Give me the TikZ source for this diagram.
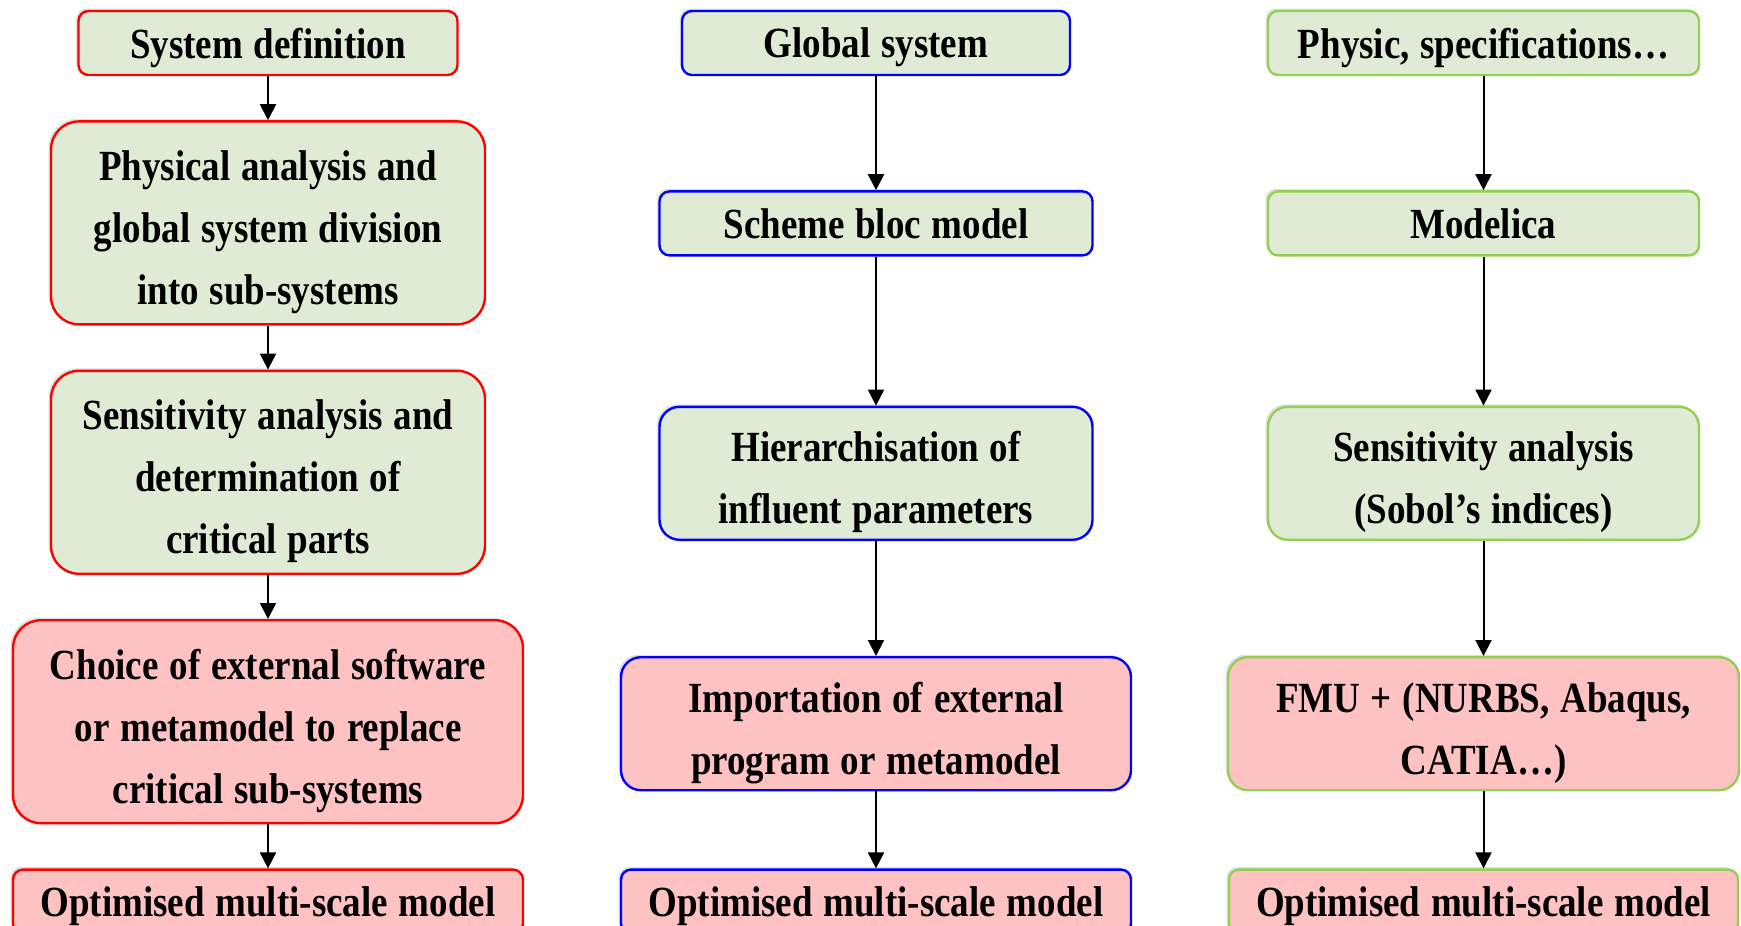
\documentclass[tikz,border=0pt]{standalone}
\usepackage{fontspec}
\setmainfont{Liberation Serif}[FakeStretch=0.86]
\usetikzlibrary{arrows.meta,positioning,shadows}

\definecolor{greenfill}{HTML}{DFEBD5}
\definecolor{pinkfill}{HTML}{FFC2C2}
\definecolor{greenline}{HTML}{92D050}

\tikzset{
  stage/.style={draw, line width=1.2pt, inner sep=0pt, align=center,
    font=\fontsize{21.5}{31}\selectfont\bfseries,
    execute at begin node={\spaceskip=0.25em\relax},
    execute at end node={\par\vspace{-9pt}},
    drop shadow={shadow xshift=-1.2pt, shadow yshift=1.2pt, opacity=0.25}},
  small/.style={minimum height=32pt, rounded corners=5pt},
  tall/.style={minimum height=101.5pt, rounded corners=14pt},
  medium/.style={minimum height=66.5pt, rounded corners=10pt},
  todo/.style={fill=greenfill},
  result/.style={fill=pinkfill}
}

\begin{document}
\begin{tikzpicture}[x=0.5pt,y=-0.5pt,>={Triangle[length=8pt,width=8pt]}]
        \useasboundingbox (0,0) rectangle (1741,926);

        % first column
        \node[stage,small,todo,draw=red,text width=189.5pt] (system definition) at (268,43) {System definition};
        \node[stage,tall,todo,draw=red,text width=217pt] (physical analysis) [below=22pt of system definition]
                {Physical analysis and\\global system division\\into sub-systems};
        \node[stage,tall,todo,draw=red,text width=217pt] (critical parts) [below=22pt of physical analysis]
                {Sensitivity analysis and\\determination of\\critical parts};
        \node[stage,tall,result,draw=red,text width=255pt] (choice software) [below=22pt of critical parts]
                {Choice of external software\\or metamodel to replace\\critical sub-systems};
        \node[stage,small,result,draw=red,text width=255pt] (optimised left) [below=22pt of choice software]
                {Optimised multi-scale model};

        % second column
        \node[stage,small,todo,draw=blue,text width=194pt] (global system) at (876,43) {Global system};
        \node[stage,small,todo,draw=blue,text width=216.5pt] (scheme bloc) [below=57pt of global system]
                {Scheme bloc model};
        \node[stage,medium,todo,draw=blue,text width=216.5pt] (hierarchisation) [below=74.5pt of scheme bloc]
                {Hierarchisation of\\influent parameters};
        \node[stage,medium,result,draw=blue,text width=255pt] (importation) [below=57.5pt of hierarchisation]
                {Importation of external\\program or metamodel};
        \node[stage,small,result,draw=blue,text width=255pt] (optimised middle) [below=38.5pt of importation]
                {Optimised multi-scale model};

        % third column
        \node[stage,small,todo,draw=greenline,text width=215.5pt] (physic) at (1483.5,43)
                {Physic, specifications…};
        \node[stage,small,todo,draw=greenline,text width=215.5pt] (modelica) [below=57pt of physic]
                {Modelica};
        \node[stage,medium,todo,draw=greenline,text width=215.5pt] (sobol) [below=74.5pt of modelica]
                {Sensitivity analysis\\(Sobol’s indices)};
        \node[stage,medium,result,draw=greenline,text width=255.5pt] (fmu) [below=57.5pt of sobol]
                {FMU + (NURBS, Abaqus,\\CATIA…)};
        \node[stage,small,result,draw=greenline,text width=254.5pt] (optimised right) [below=38.5pt of fmu]
                {Optimised multi-scale model};

        \draw [->,line width=1pt] (system definition) -- (physical analysis);
        \draw [->,line width=1pt] (physical analysis) -- (critical parts);
        \draw [->,line width=1pt] (critical parts) -- (choice software);
        \draw [->,line width=1pt] (choice software) -- (optimised left);

        \draw [->,line width=1pt] (global system) -- (scheme bloc);
        \draw [->,line width=1pt] (scheme bloc) -- (hierarchisation);
        \draw [->,line width=1pt] (hierarchisation) -- (importation);
        \draw [->,line width=1pt] (importation) -- (optimised middle);

        \draw [->,line width=1pt] (physic) -- (modelica);
        \draw [->,line width=1pt] (modelica) -- (sobol);
        \draw [->,line width=1pt] (sobol) -- (fmu);
        \draw [->,line width=1pt] (fmu) -- (optimised right);
\end{tikzpicture}
\end{document}
